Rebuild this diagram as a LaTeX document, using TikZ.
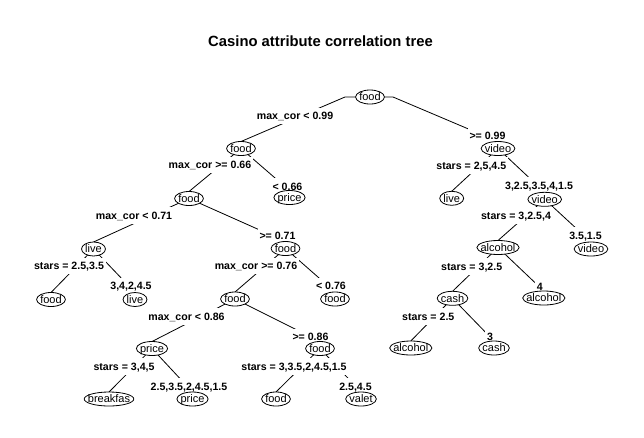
\documentclass[tikz,border=0pt]{standalone}
\usepackage{fontspec}
\setmainfont{Liberation Sans}
\usetikzlibrary{calc}
\pgfdeclarelayer{bg}
\pgfdeclarelayer{lines}
\pgfdeclarelayer{labels}
\pgfdeclarelayer{ells}
\pgfsetlayers{bg,lines,labels,ells,main}
\tikzset{
  tn/.style={inner sep=0pt, text height=7.9pt, text depth=0pt, font=\fontsize{11}{13}\selectfont},
  sl/.style={fill=white, inner xsep=2pt, inner ysep=4.5pt, text height=7.6pt, text depth=0pt, font=\bfseries\fontsize{10.6}{12}\selectfont},
  br/.style={draw=black, line width=0.8pt},
  ov/.style={draw=black, fill=white, line width=0.8pt},
  ttl/.style={anchor=base, inner sep=0pt, font=\bfseries\fontsize{14.8}{17}\selectfont}
}
\begin{document}
\begin{tikzpicture}[x=1pt,y=-1pt]
\useasboundingbox (0,0) rectangle (644,437);
\begin{pgfonlayer}{bg}
\fill[white] (0,0) rectangle (644,437);
\end{pgfonlayer}

\node[ttl] (title) at (320.5,46) {Casino attribute correlation tree};

% tree nodes (text)
\node[tn] (root) at (370,97) {food};
\node[tn] (a) at (241,148.5) {food};
\node[tn] (b) at (189,198.5) {food};
\node[tn] (c) at (289.5,197.5) {price};
\node[tn] (d) at (93.5,249) {live};
\node[tn] (e) at (285.5,248.5) {food};
\node[tn] (f) at (51,299.5) {food};
\node[tn] (g) at (135,299.5) {live};
\node[tn] (h) at (235,299) {food};
\node[tn] (i) at (335,299) {food};
\node[tn] (j) at (152,348.5) {price};
\node[tn] (k) at (320,348.5) {food};
\node[tn] (m) at (109,399) {breakfas};
\node[tn] (n) at (192.5,399) {price};
\node[tn] (o) at (276,399) {food};
\node[tn] (p) at (361,399) {valet};
\node[tn] (v1) at (498,148.5) {video};
\node[tn] (q) at (451.7,198.3) {live};
\node[tn] (v2) at (544.7,199.3) {video};
\node[tn] (s1) at (498,247.5) {alcohol};
\node[tn] (v3) at (591,249) {video};
\node[tn] (t1) at (452.5,298.3) {cash};
\node[tn] (u) at (543.8,298) {alcohol};
\node[tn] (w) at (410.8,348) {alcohol};
\node[tn] (xx) at (494,348) {cash};

% ellipses
\begin{pgfonlayer}{ells}
\foreach \nd in {root,a,b,c,d,e,f,g,h,i,j,k,m,n,o,p,v1,q,v2,s1,v3,t1,u,w,xx}{
  \path[ov] let \p1=($(\nd.east)-(\nd.west)$) in (\nd.center) ellipse [x radius={0.5*\x1+3.5pt}, y radius=7pt];
}
\end{pgfonlayer}

% branches
\begin{pgfonlayer}{lines}
\draw[br] (root.center) -- ++(-25,0) -- ([yshift=7pt]a.center);
\draw[br] (root.center) -- ++(23,0) -- ([yshift=7pt]v1.center);
\draw[br] (a.center) -- ([yshift=7pt]b.center);
\draw[br] (a.center) -- ([yshift=7pt]c.center);
\draw[br] (b.center) -- ([yshift=7pt]d.center);
\draw[br] (b.center) -- ([yshift=7pt]e.center);
\draw[br] (d.center) -- ([yshift=7pt]f.center);
\draw[br] (d.center) -- ([yshift=7pt]g.center);
\draw[br] (e.center) -- ([yshift=7pt]h.center);
\draw[br] (e.center) -- ([yshift=7pt]i.center);
\draw[br] (h.center) -- ([yshift=7pt]j.center);
\draw[br] (h.center) -- ([yshift=7pt]k.center);
\draw[br] (j.center) -- ([yshift=7pt]m.center);
\draw[br] (j.center) -- ([yshift=7pt]n.center);
\draw[br] (k.center) -- ([yshift=7pt]o.center);
\draw[br] (k.center) -- ([yshift=7pt]p.center);
\draw[br] (v1.center) -- ([yshift=7pt]q.center);
\draw[br] (v1.center) -- ([yshift=7pt]v2.center);
\draw[br] (v2.center) -- ([yshift=7pt]s1.center);
\draw[br] (v2.center) -- ([yshift=7pt]v3.center);
\draw[br] (s1.center) -- ([yshift=7pt]t1.center);
\draw[br] (s1.center) -- ([yshift=7pt]u.center);
\draw[br] (t1.center) -- ([yshift=7pt]w.center);
\draw[br] (t1.center) -- ([yshift=7pt]xx.center);
\end{pgfonlayer}

% split labels
\begin{pgfonlayer}{labels}
\node[sl] (l1) at (295,116) {max\_cor < 0.99};
\node[sl] (l2) at (487.5,136) {>= 0.99};
\node[sl] (l3) at (210,165) {max\_cor >= 0.66};
\node[sl] (l4) at (287.5,186.3) {< 0.66};
\node[sl] (l5) at (134,215.5) {max\_cor < 0.71};
\node[sl] (l6) at (277.5,236) {>= 0.71};
\node[sl] (l7) at (69,266) {stars = 2.5,3.5};
\node[sl] (l8) at (131,286) {3,4,2,4.5};
\node[sl] (l9) at (256,266) {max\_cor >= 0.76};
\node[sl] (l10) at (331,286) {< 0.76};
\node[sl] (l11) at (186.5,316.5) {max\_cor < 0.86};
\node[sl] (l12) at (310.5,337) {>= 0.86};
\node[sl] (l13) at (124,366.5) {stars = 3,4,5};
\node[sl] (l14) at (189,386.5) {2.5,3.5,2,4.5,1.5};
\node[sl] (l15) at (294,366.5) {stars = 3,3.5,2,4.5,1.5};
\node[sl] (l16) at (355.5,386.5) {2.5,4.5};
\node[sl] (l17) at (471.3,165.5) {stars = 2,5,4.5};
\node[sl] (l18) at (539,185.5) {3,2.5,3.5,4,1.5};
\node[sl] (l19) at (516,215.5) {stars = 3,2.5,4};
\node[sl] (l20) at (585.5,235.5) {3.5,1.5};
\node[sl] (l21) at (471.7,266.3) {stars = 3,2.5};
\node[sl] (l22) at (539.7,286.3) {4};
\node[sl] (l23) at (428.3,316.5) {stars = 2.5};
\node[sl] (l24) at (490,337) {3};
\end{pgfonlayer}
\end{tikzpicture}
\end{document}
